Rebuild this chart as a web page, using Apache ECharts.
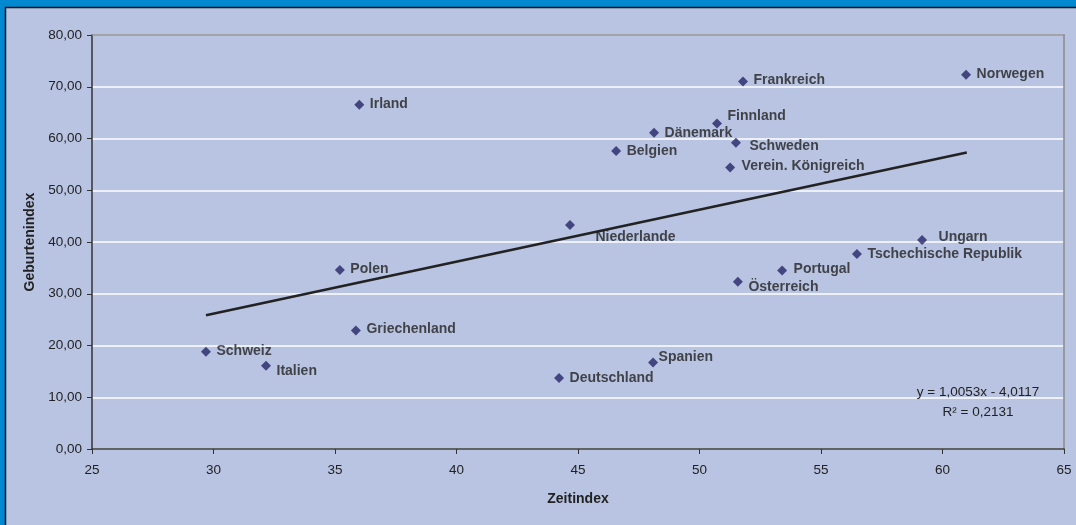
<!DOCTYPE html>
<html>
<head>
<meta charset="utf-8">
<script src="https://cdn.jsdelivr.net/npm/echarts@6/dist/echarts.min.js"></script>
<style>
html,body{margin:0;padding:0;background:#0089D0;}
#chart{width:1076px;height:525px;}
</style>
</head>
<body>
<div id="chart"></div>
<script>
// Data
var countries = ['Norwegen','Frankreich','Irland','Finnland','Dänemark','Schweden','Belgien','Verein. Königreich','Niederlande','Ungarn','Tschechische Republik','Polen','Portugal','Österreich','Griechenland','Schweiz','Italien','Spanien','Deutschland'];
var zeitindex = [60.97, 51.79, 36.0, 50.72, 48.13, 51.5, 46.57, 51.26, 44.67, 59.16, 56.48, 35.2, 53.4, 51.58, 35.86, 29.69, 32.16, 48.09, 44.22];
var geburtenindex = [72.3, 71.0, 66.5, 62.9, 61.1, 59.2, 57.6, 54.4, 43.3, 40.4, 37.7, 34.6, 34.5, 32.3, 22.9, 18.8, 16.1, 16.7, 13.7];
var trendX = [29.69, 61.0];
var trendY = [25.83, 57.31];
var xTicks = [25, 30, 35, 40, 45, 50, 55, 60, 65];
var yTicks = [0, 10, 20, 30, 40, 50, 60, 70, 80];
var equationText = 'y = 1,0053x - 4,0117';
var r2Text = 'R\u00B2 = 0,2131';

// label placement (style only)
var labelOffsets = {
  'Norwegen':[0,-1],'Frankreich':[0,-1],'Irland':[0,-1],'Finnland':[0,-7],'Dänemark':[0,0],
  'Schweden':[3,4],'Belgien':[0,0],'Verein. Königreich':[1,-1],'Niederlande':[15,12],
  'Ungarn':[6,-3],'Tschechische Republik':[0,0],'Polen':[0,-1],'Portugal':[1,-1],
  'Österreich':[0,5],'Griechenland':[0,-1],'Schweiz':[0,-1],'Italien':[0,5],
  'Spanien':[-5,-5],'Deutschland':[0,0]
};

var scatterData = countries.map(function(c, i){
  return {name: c, value: [zeitindex[i], geburtenindex[i]], label: {offset: labelOffsets[c] || [0,0]}};
});
var trendData = trendX.map(function(x, i){ return [x, trendY[i]]; });

var FONT = 'Liberation Sans, Arial, sans-serif';
var TXT = '#222';
var chart = echarts.init(document.getElementById('chart'), null, {renderer:'canvas'});
chart.setOption({
  backgroundColor: '#0089D0',
  animation: false,
  graphic: [
    {type:'rect', z:-10, shape:{x:5.5, y:7.5, width:1100, height:600}, style:{fill:'#B8C4E2', stroke:'#111', lineWidth:1.5}},
    {type:'text', z:10, x:978, y:392, style:{text:equationText, fill:TXT, font:'13.5px ' + FONT, textAlign:'center', textVerticalAlign:'middle'}},
    {type:'text', z:10, x:978, y:412, style:{text:r2Text, fill:TXT, font:'13.5px ' + FONT, textAlign:'center', textVerticalAlign:'middle'}}
  ],
  grid: {left:92, top:35, width:972, height:414, show:false},
  xAxis: [{
    type:'value', min:xTicks[0], max:xTicks[xTicks.length-1], interval:5,
    name:'Zeitindex', nameLocation:'middle', nameGap:43,
    nameTextStyle:{fontFamily:FONT, fontWeight:'bold', fontSize:14, color:TXT},
    axisLine:{show:true, onZero:false, lineStyle:{color:'#333', width:1.5}},
    axisTick:{show:true, length:5, inside:false, lineStyle:{color:'#333'}},
    axisLabel:{fontFamily:FONT, fontSize:13.5, color:TXT, margin:14},
    splitLine:{show:false}
  },{
    type:'value', position:'top', min:xTicks[0], max:xTicks[xTicks.length-1],
    axisLine:{show:true, onZero:false, lineStyle:{color:'#8a8a8a', width:1.5}},
    axisTick:{show:false}, axisLabel:{show:false}, splitLine:{show:false}
  }],
  yAxis: [{
    type:'value', min:yTicks[0], max:yTicks[yTicks.length-1], interval:10,
    name:'Geburtenindex', nameLocation:'middle', nameGap:53, nameRotate:90,
    nameTextStyle:{fontFamily:FONT, fontWeight:'bold', fontSize:14, color:TXT},
    axisLine:{show:true, onZero:false, lineStyle:{color:'#333', width:1.5}},
    axisTick:{show:true, length:5, inside:false, lineStyle:{color:'#333'}},
    axisLabel:{fontFamily:FONT, fontSize:13.5, color:TXT, margin:10,
      formatter:function(v){ return v.toFixed(2).replace('.', ','); }},
    splitLine:{show:true, lineStyle:{color:'#ffffff', width:1.5}}
  },{
    type:'value', position:'right', min:yTicks[0], max:yTicks[yTicks.length-1],
    axisLine:{show:true, onZero:false, lineStyle:{color:'#8a8a8a', width:1.5}},
    axisTick:{show:false}, axisLabel:{show:false}, splitLine:{show:false}
  }],
  series: [
    {
      type:'line', data:trendData, xAxisIndex:0, yAxisIndex:0, symbol:'none',
      lineStyle:{color:'#222', width:2.5}, z:3, silent:true
    },
    {
      type:'scatter', data:scatterData, xAxisIndex:0, yAxisIndex:0,
      symbol:'diamond', symbolSize:10, z:4,
      itemStyle:{color:'#262668'},
      label:{show:true, position:'right', distance:5.5, formatter:'{b}',
        fontFamily:FONT, fontWeight:'bold', fontSize:14, color:TXT}
    }
  ]
});
</script>
</body>
</html>
